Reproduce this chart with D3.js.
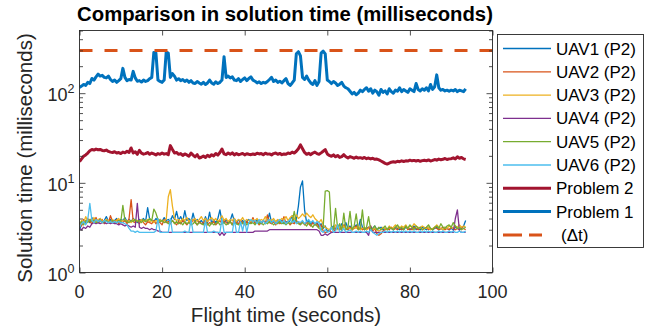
<!DOCTYPE html>
<html><head><meta charset="utf-8">
<script src="https://cdn.jsdelivr.net/npm/d3@7"></script>
<style>
body{margin:0;background:#fff;}
svg{display:block;font-family:"Liberation Sans",Arial,Helvetica,sans-serif;}
</style></head>
<body><svg id="c" width="651" height="334"></svg>
<script>
// ---- data (sampled every 0.5 s) ----
const tStep = 0.5;
const xTicks = [0, 20, 40, 60, 80, 100];
const yMajor = [1, 10, 100];
const yMinor = [2,3,4,5,6,7,8,9,20,30,40,50,60,70,80,90,200,300,400,500];
const deltaT = 300;
const seriesNames = ["UAV1 (P2)","UAV2 (P2)","UAV3 (P2)","UAV4 (P2)","UAV5 (P2)","UAV6 (P2)","Problem 2","Problem 1"];
const uav1 = [3.0,3.4,3.8,3.5,3.9,3.6,4.1,3.7,3.9,3.6,4.0,3.7,
3.8,4.2,3.7,3.9,3.6,3.8,4.0,3.7,3.9,3.8,4.1,3.7,
3.9,3.7,4.0,3.8,3.6,3.9,3.8,4.0,3.7,5.3,3.9,3.8,
3.7,4.0,3.8,3.9,3.7,4.1,3.8,3.9,3.7,4.3,3.9,4.8,
3.8,4.2,3.7,4.9,3.8,4.0,3.6,4.6,3.7,3.9,3.6,3.8,
3.5,4.2,3.6,4.7,3.5,3.9,3.6,4.0,5.0,3.7,3.6,3.9,
3.5,3.8,4.5,3.7,3.5,3.9,3.6,3.8,3.5,3.7,3.9,3.6,
3.8,3.6,3.9,3.7,3.5,3.8,3.6,3.7,4.6,3.6,3.8,3.5,
3.7,3.6,3.8,3.5,3.7,3.6,3.8,4.3,3.6,3.9,5.5,9.0,
10.5,5.0,3.6,3.8,3.5,3.7,3.4,3.6,3.3,3.5,3.1,3.3,
2.9,2.9,3.1,3.3,3.0,3.4,3.1,3.5,3.2,3.6,3.1,3.3,
3.0,3.2,3.4,3.1,3.9,3.2,3.0,3.1,3.2,3.0,3.1,3.3,
3.0,3.1,3.2,3.0,3.1,3.0,3.2,3.1,3.0,3.2,3.1,3.0,
3.1,3.0,3.2,3.1,3.0,3.1,3.3,3.0,3.1,3.0,3.2,3.1,
3.0,3.2,3.1,3.0,3.1,3.2,3.0,3.1,3.0,3.2,3.1,3.0,
3.1,3.0,3.2,3.1,3.0,3.1,3.3,3.8];
const uav2 = [3.6,3.3,3.9,3.5,4.0,3.7,3.5,3.8,4.1,3.6,3.7,3.9,
3.5,3.8,3.6,4.3,3.7,3.6,3.9,3.5,3.7,3.6,3.8,3.5,
4.0,6.5,3.7,3.6,3.8,3.5,3.9,3.6,3.4,3.7,3.6,3.5,
3.8,3.5,3.7,3.6,3.4,3.9,3.6,3.7,3.5,3.8,3.6,3.4,
3.7,3.5,3.8,3.6,3.4,3.7,3.5,3.9,3.6,3.4,3.7,3.5,
3.6,3.8,3.4,3.6,3.5,3.7,3.4,3.6,3.8,3.5,3.9,3.6,
3.5,3.7,3.4,4.0,3.6,3.5,3.8,3.6,3.4,3.7,3.5,3.6,
4.1,3.5,3.7,3.4,3.6,3.8,3.5,4.4,3.6,3.5,3.7,3.4,
3.8,3.5,3.6,4.2,3.5,3.7,3.4,3.6,3.5,3.8,3.6,3.5,
3.7,3.4,3.6,3.5,3.3,3.6,3.4,3.5,3.2,3.4,2.9,2.8,
2.8,3.0,2.8,2.8,3.1,3.3,3.0,3.2,3.4,3.1,3.0,3.2,
3.0,3.1,3.3,3.0,3.2,3.0,3.1,3.0,3.2,3.0,2.9,3.1,
2.7,2.6,2.7,2.9,3.0,3.1,3.0,3.2,3.0,3.1,3.0,3.2,
3.0,3.1,3.3,3.0,3.1,3.0,3.2,3.1,3.0,3.2,3.0,3.1,
3.2,3.0,3.1,3.0,3.2,3.1,3.0,3.1,3.2,3.0,3.1,3.0,
3.2,3.1,3.0,3.1,3.0,3.2,3.1,3.0];
const uav3 = [3.4,3.8,3.6,4.2,3.7,3.9,3.8,4.1,3.7,3.9,4.0,3.8,
3.7,3.9,3.8,3.6,3.9,3.7,3.8,4.0,3.7,3.8,3.9,3.7,
3.8,3.6,3.9,3.7,3.8,3.6,3.9,3.7,3.8,3.9,3.7,3.8,
3.6,3.8,3.7,3.9,3.7,3.8,3.9,7.0,8.4,5.5,4.0,3.8,
3.9,3.7,4.0,3.8,4.1,3.7,3.9,3.8,4.0,3.7,3.9,4.2,
3.8,4.0,3.7,3.9,4.1,3.8,4.0,3.7,3.9,4.3,3.8,4.0,
3.7,3.9,3.8,4.0,3.7,3.9,3.8,4.1,3.7,3.9,3.8,3.7,
3.9,3.8,4.0,3.7,3.9,3.8,4.2,3.7,3.9,3.8,4.0,3.7,
3.9,3.8,4.0,3.9,4.2,3.8,4.1,4.3,3.9,4.4,4.0,4.2,
4.5,4.2,4.6,4.3,4.1,4.4,4.0,3.8,3.6,3.9,3.4,3.2,
3.1,3.0,3.2,3.1,3.4,3.0,3.2,3.1,3.3,3.0,3.2,3.1,
3.0,3.2,3.1,3.3,3.0,3.1,3.2,3.0,3.1,3.3,3.0,3.1,
3.0,2.9,3.0,3.2,3.1,3.0,3.3,3.1,3.2,3.4,3.2,3.1,
3.3,3.2,3.4,3.1,3.3,3.2,3.5,3.3,3.2,3.1,3.3,3.2,
3.1,3.2,3.0,3.1,3.2,3.4,3.2,3.1,3.0,3.2,3.1,3.3,
3.2,3.1,3.3,3.2,3.4,3.2,3.3,3.2];
const uav4 = [3.1,3.0,3.2,3.1,3.3,3.2,3.5,3.6,3.5,3.6,3.5,3.6,
3.6,3.5,3.6,3.5,3.6,3.5,3.5,3.4,3.5,3.4,3.3,3.4,
3.3,3.2,3.3,3.2,5.9,3.2,3.1,3.2,3.1,3.1,3.0,3.1,
3.0,3.0,2.9,2.9,2.8,2.8,2.8,2.8,2.8,2.8,2.8,2.8,
2.8,2.8,2.8,2.8,2.8,2.8,2.8,2.8,2.8,2.8,2.8,2.8,
2.8,2.8,2.8,2.8,2.8,2.8,2.8,2.8,2.6,2.8,2.6,2.8,
2.8,2.8,2.8,2.8,2.8,2.8,2.8,2.8,2.8,2.8,2.8,2.8,
2.8,2.9,2.9,2.9,2.9,2.9,2.9,2.9,3.0,3.0,3.0,3.0,
3.0,3.0,3.0,3.0,3.0,3.0,3.0,3.0,3.0,3.0,3.0,3.0,
3.0,3.0,3.0,3.0,3.0,3.0,3.0,3.0,2.9,2.6,2.6,2.7,
2.6,2.7,2.8,2.8,2.8,2.8,2.8,2.8,2.8,2.8,2.8,2.8,
2.8,2.8,2.8,2.8,2.8,2.8,2.8,2.8,2.6,3.3,2.8,2.8,
2.8,2.8,2.8,2.8,2.8,2.8,2.8,2.8,2.8,2.8,2.8,2.8,
2.8,2.8,2.8,2.8,2.8,2.8,2.8,2.8,2.8,2.8,2.8,2.8,
2.8,2.8,2.8,2.8,2.8,2.8,2.8,2.8,2.8,2.8,2.8,2.8,
2.8,2.8,4.0,5.0,2.9,2.8,2.8,2.8];
const uav5 = [3.5,3.7,3.4,3.8,3.6,3.9,3.7,3.8,3.6,3.7,3.8,3.6,
3.7,3.8,3.6,3.7,3.8,3.7,3.6,3.8,3.7,5.6,3.8,3.7,
3.6,3.8,3.7,3.9,3.7,3.8,3.6,3.9,3.7,3.8,4.0,3.8,
5.1,4.6,3.9,3.7,3.8,3.6,3.7,3.5,3.6,3.8,3.5,3.7,
3.5,3.6,3.4,3.7,3.5,3.6,3.4,3.5,3.7,3.4,3.6,3.5,
3.4,3.6,3.5,3.3,3.6,3.4,3.5,3.7,3.4,3.5,3.6,3.4,
3.5,3.7,3.4,3.6,3.5,3.4,3.6,3.5,3.7,3.4,3.6,3.5,
3.6,3.4,3.7,3.5,3.6,3.4,3.6,3.5,3.7,3.6,3.4,3.6,
3.5,3.7,3.5,3.6,3.4,3.6,3.5,3.7,4.8,3.6,3.5,3.4,
3.6,3.5,3.3,3.6,3.4,3.2,3.5,3.3,3.1,3.0,3.2,8.1,
8.2,7.9,3.2,3.0,5.2,3.1,3.5,2.9,4.6,3.0,3.2,4.8,
3.0,3.3,4.5,3.0,3.1,5.0,3.0,3.2,4.2,3.0,3.1,3.3,
3.0,3.2,3.0,3.1,3.3,3.0,3.2,3.1,3.0,3.2,3.4,3.1,
3.2,3.0,3.3,3.1,3.4,3.2,3.0,3.3,3.1,3.2,3.0,3.1,
3.2,3.4,3.1,3.0,3.2,3.3,3.1,3.5,3.2,3.1,3.3,3.4,
3.2,3.6,3.3,3.1,3.2,3.0,3.1,3.2];
const uav6 = [3.2,3.5,3.7,3.4,3.9,5.9,3.8,3.6,3.9,3.7,3.8,3.6,
3.8,3.7,3.6,3.7,3.6,3.7,3.6,3.7,3.6,3.6,3.5,3.4,
3.1,2.9,2.9,2.8,2.9,2.8,2.8,2.8,2.8,2.8,2.8,2.8,
2.8,2.9,4.0,2.8,2.8,2.8,2.8,2.8,4.0,2.8,2.8,2.8,
2.8,2.8,2.8,2.9,2.8,2.8,3.9,2.8,2.8,2.8,2.8,2.8,
2.8,3.8,2.8,2.8,2.8,2.9,2.8,2.8,2.8,4.0,2.8,2.8,
2.8,2.8,2.8,3.9,2.8,2.8,3.7,2.9,3.8,2.8,3.6,3.9,
3.7,3.8,3.5,3.9,3.6,3.8,3.5,3.7,3.9,3.6,3.8,3.5,
3.7,3.9,3.6,3.8,3.5,3.7,3.9,3.6,3.8,3.5,3.7,3.6,
3.8,3.5,3.7,3.9,3.6,3.8,3.5,3.7,3.6,2.9,2.8,3.0,
2.8,2.9,3.2,2.8,2.9,3.4,2.8,2.9,3.1,2.8,2.9,3.0,
2.8,2.8,2.9,2.8,2.9,2.8,2.8,2.9,2.8,3.0,2.8,2.7,
2.6,2.7,2.8,2.8,2.9,2.8,2.9,2.8,2.9,2.8,2.9,2.8,
2.9,2.8,2.9,2.8,2.9,2.8,2.9,2.8,2.8,2.9,2.8,2.9,
2.8,2.9,2.8,2.9,2.8,2.8,2.9,2.8,2.9,2.8,2.8,2.9,
2.8,2.9,2.8,2.8,2.9,2.8,2.8,2.9];
const problem2 = [17.2,18.5,19.8,20.5,21.5,22.8,23.5,23.2,23.8,23.4,23.6,23.0,
22.8,23.2,22.4,22.0,21.8,22.2,21.5,21.8,21.2,22.0,21.6,22.5,
21.8,24.5,21.5,22.2,20.8,23.0,21.4,20.9,21.2,21.8,20.8,21.5,
21.0,20.5,21.2,20.8,21.5,20.9,21.2,20.6,26.0,23.5,21.5,21.8,
20.8,21.2,20.2,21.0,20.5,19.8,21.5,20.4,19.5,20.6,18.9,19.3,
19.9,19.2,20.3,19.6,20.6,20.0,21.2,20.4,21.8,23.8,21.0,20.6,
21.5,20.8,21.6,20.5,21.2,20.6,20.9,21.3,20.5,21.1,20.8,20.6,
21.0,20.7,21.4,21.0,21.2,20.6,21.4,20.9,21.0,20.5,21.2,21.5,
20.8,21.3,20.6,21.0,20.8,21.5,21.2,22.0,21.5,22.5,24.0,26.5,
24.0,21.8,20.8,21.4,20.6,21.5,22.0,21.2,20.8,21.6,22.5,23.5,
21.0,20.2,19.8,20.5,19.5,20.2,19.2,19.6,20.6,19.5,18.9,19.6,
19.2,18.8,19.4,18.9,19.1,18.7,19.2,18.6,18.9,18.5,18.8,18.3,
18.4,18.0,17.5,17.0,16.5,16.2,16.6,17.0,17.2,17.0,17.4,17.2,
17.6,17.3,17.6,17.5,17.9,17.6,17.8,17.5,17.8,17.4,17.7,17.9,
17.6,18.0,17.5,17.8,18.2,17.9,18.4,18.1,18.3,18.7,18.2,18.5,
18.6,19.0,18.5,19.5,18.8,19.2,18.5,18.2];
const problem1 = [116,120,125,122,132,128,146,140,152,163,155,158,
150,148,155,142,135,140,132,138,145,189,150,138,
142,140,175,148,136,138,133,140,135,138,145,150,
285,282,140,135,132,140,288,280,150,165,155,140,
145,138,142,135,140,132,138,130,128,135,130,126,
132,125,130,140,130,126,134,128,132,140,255,150,
155,148,152,140,138,145,135,142,148,138,146,152,
140,136,130,134,128,132,130,135,142,150,135,140,
132,136,130,138,145,128,122,130,140,275,290,260,
150,142,155,140,130,125,138,122,135,280,295,275,
140,135,128,135,130,122,126,132,120,115,112,105,
98,102,96,100,108,104,110,115,105,112,100,108,
104,95,110,102,106,98,112,104,100,108,105,115,
104,110,106,102,112,108,104,128,110,106,112,108,
115,106,125,110,118,160,115,108,110,106,108,105,
108,106,110,104,108,106,104,112];

const colors = ["#0072BD","#D95319","#EDB120","#7E2F8E","#77AC30","#4DBEEE","#A2142F","#0072BD"];
const widths = [1.3,1.3,1.3,1.3,1.3,1.3,3,3];
const allSeries = [uav1,uav2,uav3,uav4,uav5,uav6,problem2,problem1];

// ---- chart ----
const svg = d3.select("#c");
const L = 79.5, R = 492.5, T = 30.5, B = 272.5;
const x = d3.scaleLinear().domain([0,100]).range([L,R]);
const y = d3.scaleLog().domain([1,500]).range([B,T]);
const axisColor = "#262626";

svg.append("defs").append("clipPath").attr("id","clip")
  .append("rect").attr("x",L).attr("y",T).attr("width",R-L).attr("height",B-T);

const plot = svg.append("g").attr("clip-path","url(#clip)");
const line = d3.line().x((d,i)=>x(i*tStep)).y(d=>y(d));
allSeries.forEach((s,k)=>{
  plot.append("path").datum(s).attr("d",line)
    .attr("fill","none").attr("stroke",colors[k]).attr("stroke-width",widths[k])
    .attr("stroke-linejoin","round");
});
plot.append("line").attr("x1",x(0)).attr("x2",x(100)).attr("y1",y(deltaT)).attr("y2",y(deltaT))
  .attr("stroke","#D95319").attr("stroke-width",3).attr("stroke-dasharray","13,12");

// axes
function styleAxis(g){
  g.select(".domain").remove();
  g.selectAll(".tick line").attr("stroke",axisColor).attr("stroke-width",0.8);
  g.selectAll(".tick text").remove();
}
svg.append("g").attr("transform",`translate(0,${B})`)
  .call(d3.axisBottom(x).tickValues(xTicks).tickSizeInner(-5).tickSizeOuter(0)).call(styleAxis);
svg.append("g").attr("transform",`translate(0,${T})`)
  .call(d3.axisTop(x).tickValues(xTicks).tickSizeInner(-5).tickSizeOuter(0)).call(styleAxis);
svg.append("g").attr("transform",`translate(${L},0)`)
  .call(d3.axisLeft(y).tickValues(yMajor).tickSizeInner(-6).tickSizeOuter(0)).call(styleAxis);
svg.append("g").attr("transform",`translate(${L},0)`)
  .call(d3.axisLeft(y).tickValues(yMinor).tickSizeInner(-3.5).tickSizeOuter(0)).call(styleAxis);
svg.append("g").attr("transform",`translate(${R},0)`)
  .call(d3.axisRight(y).tickValues(yMajor).tickSizeInner(-6).tickSizeOuter(0)).call(styleAxis);
svg.append("g").attr("transform",`translate(${R},0)`)
  .call(d3.axisRight(y).tickValues(yMinor).tickSizeInner(-3.5).tickSizeOuter(0)).call(styleAxis);
svg.append("rect").attr("x",L).attr("y",T).attr("width",R-L).attr("height",B-T)
  .attr("fill","none").attr("stroke",axisColor).attr("stroke-width",0.9);

// tick labels
svg.append("g").selectAll("text").data(xTicks).join("text")
  .attr("x",d=>x(d)).attr("y",B+25).attr("text-anchor","middle")
  .attr("font-size",18).attr("fill",axisColor).text(d=>d);
const yl = svg.append("g").selectAll("text").data(yMajor).join("text")
  .attr("x",L-5).attr("y",d=>y(d)+8).attr("text-anchor","end")
  .attr("font-size",18).attr("fill",axisColor);
yl.append("tspan").text("10");
yl.append("tspan").attr("font-size",12.5).attr("dy",-8).text(d=>Math.round(Math.log10(d)));

// titles
svg.append("text").attr("x",285).attr("y",21).attr("text-anchor","middle")
  .attr("font-size",20.3).attr("font-weight","bold").attr("fill","#000")
  .text("Comparison in solution time (milliseconds)");
svg.append("text").attr("x",286).attr("y",322).attr("text-anchor","middle")
  .attr("font-size",20.5).attr("fill",axisColor).text("Flight time (seconds)");
svg.append("text").attr("transform","translate(32,158) rotate(-90)").attr("text-anchor","middle")
  .attr("font-size",20.5).attr("fill",axisColor).text("Solution time (milliseconds)");

// legend
const lg = svg.append("g");
lg.append("rect").attr("x",497.5).attr("y",34.5).attr("width",146).attr("height",213)
  .attr("fill","#fff").attr("stroke",axisColor).attr("stroke-width",0.9);
const legendNames = seriesNames.concat(["(\u0394t)"]);
legendNames.forEach((n,k)=>{
  const ly = 48.5 + k*23.3;
  const isDt = k===8;
  lg.append("line").attr("x1",503).attr("x2",551).attr("y1",ly).attr("y2",ly)
    .attr("stroke",isDt?"#D95319":colors[k]).attr("stroke-width",isDt?3:widths[k])
    .attr("stroke-dasharray",isDt?"19,7,13,100":null);
  lg.append("text").attr("x",isDt?561:556).attr("y",ly+6).attr("font-size",17)
    .attr("fill","#000").text(n);
});
</script></body></html>
